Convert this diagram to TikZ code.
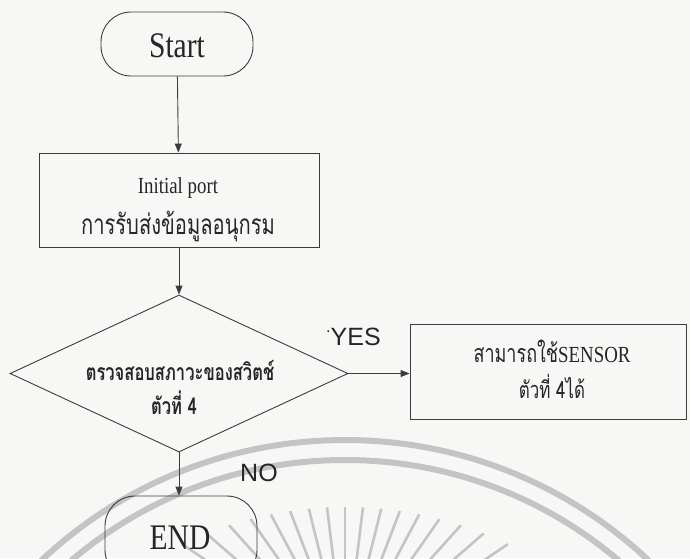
\documentclass[tikz,border=0pt]{standalone}
\usepackage{fontspec}
\setmainfont{Liberation Serif}[FakeStretch=0.82]
\newfontfamily\thai[Script=Thai,FakeStretch=0.72]{Loma}
\newfontfamily\sans{Liberation Sans}
\usetikzlibrary{arrows.meta,shapes.geometric}
\definecolor{bgc}{HTML}{F7F7F6}
\definecolor{linec}{HTML}{3C3C3C}
\definecolor{txtc}{HTML}{262626}
\definecolor{markc}{HTML}{C4C4C4}
\begin{document}
\begin{tikzpicture}[x=1pt,y=-1pt,
  shape line/.style={draw=linec, line width=0.9pt},
  flow/.style={draw=linec, line width=0.9pt, -{Triangle[length=9pt,width=7pt]}},
  terminal/.style={shape line, rectangle, rounded corners=30pt, inner sep=0pt},
  process/.style={shape line, rectangle, inner sep=0pt},
  decision/.style={shape line, diamond, inner sep=0pt},
  txt/.style={text=txtc, inner sep=0pt, anchor=base},
  latinbig/.style={font=\fontsize{36}{40}\selectfont},
  latinmid/.style={font=\fontsize{23}{26}\selectfont},
  thaibig/.style={font=\thai\fontsize{28}{32}\selectfont},
  thaimid/.style={font=\thai\fontsize{23.5}{27}\selectfont},
  thaibold/.style={font=\thai\bfseries\fontsize{23}{27}\selectfont},
  branch/.style={font=\sans\fontsize{25}{28}\selectfont, text=txtc, inner sep=0pt, anchor=base west},
  seal/.style={draw=markc, line width=6pt},
  sealray/.style={draw=markc, line width=2.6pt}
]
% page and margins
\fill[bgc] (0,0) rectangle (690,558);
\useasboundingbox (0,0) rectangle (690,558);

% faint seal in the lower part of the page
\begin{scope}
  \clip (0,0) rectangle (690,558);
  \draw[seal] (345,883) circle[radius=443];
  \draw[seal] (345,883) circle[radius=423];
  \foreach \a in {-56,-49,...,56} {
    \pgfmathsetmacro\c{cos(\a)}
    \pgfmathsetmacro\t{50*(-4.58*\c+sqrt(20.9764*\c*\c+35.574))}
    \draw[sealray] ({345+\t*sin(\a)},{654-\t*cos(\a)}) -- ({345+90*sin(\a)},{654-90*cos(\a)});
  }
\end{scope}

% flowchart shapes
\node[terminal, minimum width=152pt, minimum height=64pt] (start) at (177,44) {};
\node[process, minimum width=280pt, minimum height=94pt] (init) at (179,200) {};
\node[decision, minimum width=338pt, minimum height=157pt] (check) at (179,373.5) {};
\node[process, minimum width=276pt, minimum height=95pt] (sensor) at (548,371.5) {};
\node[terminal, minimum width=152pt, minimum height=84pt] (stop) at (181,538) {};

% texts
\node[txt, latinbig] (starttxt) at (177,57) {Start};
\node[txt, latinmid] (inittxt) at (178,193) {Initial port};
\node[txt, thaibig] (initthai) at (178,234) {การรับส่งข้อมูลอนุกรม};
\node[txt, thaibold] (checktxt) at (180,380) {ตรวจสอบสภาวะของสวิตช์};
\node[txt, thaibold] (checknum) at (174,414) {ตัวที่ 4};
\node[txt] (sensortxt) at (552,362) {{\thai\fontsize{25}{29}\selectfont สามารถใช้}{\fontsize{23}{26}\selectfont SENSOR}};
\node[txt, thaimid] (sensornum) at (552,398) {ตัวที่ 4ได้};
\node[txt, latinbig] (stoptxt) at (180,549) {END};
\node[branch] (yes) at (326,345) {\raisebox{0.5em}{\fontsize{16}{16}\selectfont.}YES};
\node[branch] (no) at (240,481) {NO};

% connectors
\draw[flow] (start) -- (init);
\draw[flow] (init) -- (check);
\draw[flow] (check.east) -- (check.east -| sensor.west);
\draw[flow] (check.south) -- (check.south |- stop.north);
\end{tikzpicture}
\end{document}
